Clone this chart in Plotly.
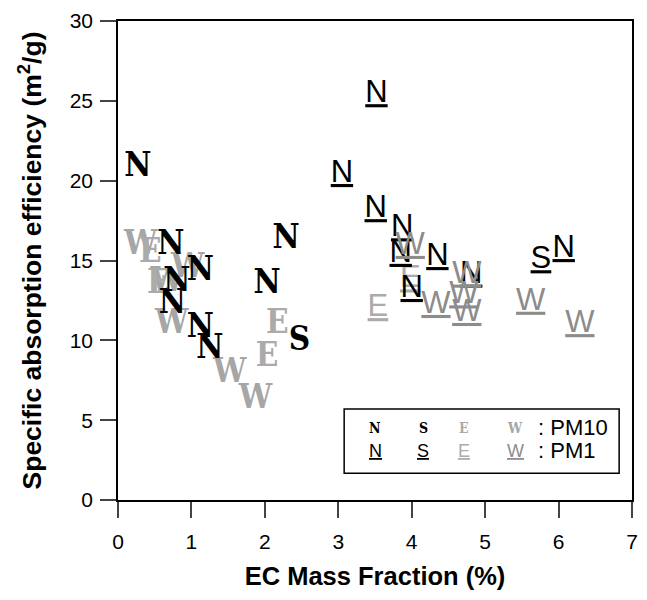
import plotly.graph_objects as go

# PM10 samples (bold serif letters), by site
pm10_n_x = [0.27, 0.72, 1.12, 0.80, 0.74, 1.12, 1.25, 2.29, 2.03]
pm10_n_y = [20.8, 15.9, 14.3, 13.6, 12.2, 10.7, 9.4, 16.3, 13.5]
pm10_s_x = [2.47]
pm10_s_y = [9.9]
pm10_e_x = [0.44, 0.55, 2.17, 2.03]
pm10_e_y = [15.4, 13.5, 11.0, 8.9]
pm10_w_x = [0.31, 0.95, 0.67, 0.73, 1.52, 1.87]
pm10_w_y = [15.9, 14.5, 13.6, 11.0, 7.9, 6.3]

# PM1 samples (underlined sans letters), by site
pm1_n_x = [3.52, 3.05, 3.51, 3.87, 3.85, 4.35, 4.00, 4.81, 6.07]
pm1_n_y = [25.4, 20.4, 18.2, 17.0, 15.4, 15.2, 13.2, 14.1, 15.7]
pm1_s_x = [5.76]
pm1_s_y = [15.0]
pm1_e_x = [3.98, 3.54]
pm1_e_y = [13.8, 12.0]
pm1_w_x = [3.98, 4.33, 4.75, 4.71, 4.75, 5.62, 6.29]
pm1_w_y = [15.9, 12.2, 14.1, 12.8, 11.7, 12.4, 11.0]

x_ticks = [0, 1, 2, 3, 4, 5, 6, 7]
y_ticks = [0, 5, 10, 15, 20, 25, 30]

BLACK = "#000000"
GRAY_E = "#ababab"
GRAY_W10 = "#a6a6a6"
GRAY_W1 = "#8c8c8c"

SERIF = "DejaVu Serif Condensed, DejaVu Serif"
SANS = "Liberation Sans, Arial, sans-serif"


def letter_trace(xs, ys, letter, color, pm10):
    if pm10:
        font = dict(family=SERIF, size=33, color=color, weight="bold")
    else:
        font = dict(family=SANS, size=31, color=color, lineposition="under")
    return go.Scatter(
        x=xs, y=ys, mode="text", text=[letter] * len(xs),
        textposition="middle center", textfont=font,
        showlegend=False, hoverinfo="x+y",
    )


fig = go.Figure()
# gray first, black on top
fig.add_trace(letter_trace(pm10_w_x, pm10_w_y, "W", GRAY_W10, True))
fig.add_trace(letter_trace(pm10_e_x, pm10_e_y, "E", GRAY_E, True))
fig.add_trace(letter_trace(pm1_e_x, pm1_e_y, "E", GRAY_E, False))
fig.add_trace(letter_trace(pm10_n_x, pm10_n_y, "N", BLACK, True))
fig.add_trace(letter_trace(pm10_s_x, pm10_s_y, "S", BLACK, True))
fig.add_trace(letter_trace(pm1_n_x, pm1_n_y, "N", BLACK, False))
fig.add_trace(letter_trace(pm1_s_x, pm1_s_y, "S", BLACK, False))
fig.add_trace(letter_trace(pm1_w_x, pm1_w_y, "W", GRAY_W1, False))

# legend box drawn by hand
legend_row10 = [("N", BLACK), ("S", BLACK), ("E", GRAY_E), ("W", GRAY_W10)]
legend_row1 = [("N", BLACK), ("S", BLACK), ("E", GRAY_E), ("W", GRAY_W1)]
col_x = [0.500, 0.594, 0.673, 0.773]
annotations = []
for (letter, color), cx in zip(legend_row10, col_x):
    annotations.append(dict(
        x=cx, y=0.151, xref="paper", yref="paper", text=letter, showarrow=False,
        xanchor="center", yanchor="middle",
        font=dict(family=SERIF, size=14, color=color, weight="bold"),
    ))
for (letter, color), cx in zip(legend_row1, col_x):
    annotations.append(dict(
        x=cx, y=0.103, xref="paper", yref="paper", text=letter, showarrow=False,
        xanchor="center", yanchor="middle",
        font=dict(family=SANS, size=18, color=color, lineposition="under"),
    ))
for label, ly in [(": PM10", 0.151), (": PM1", 0.103)]:
    annotations.append(dict(x=0.814, y=ly, xref="paper", yref="paper", text=label,
                            showarrow=False, xanchor="left", yanchor="middle",
                            font=dict(family=SANS, size=22, color=BLACK)))

# the page body adds an 8px margin, so the figure is sized to fill the window exactly
fig.update_layout(
    width=631, height=584,
    margin=dict(l=110, r=1, t=8, b=92),
    plot_bgcolor="white", paper_bgcolor="white",
    font=dict(family=SANS, color="black"),
    annotations=annotations,
    shapes=[dict(type="rect", xref="paper", yref="paper",
                 x0=0.440, x1=0.975, y0=0.056, y1=0.190,
                 line=dict(color="black", width=1.5), fillcolor="white", layer="below")],
)
fig.update_xaxes(
    range=[0, 7], tickvals=x_ticks, ticks="outside", ticklen=16, tickwidth=1.5,
    ticklabelstandoff=6, ticklabeloverflow="allow",
    showline=True, linecolor="black", linewidth=1.5, mirror=True,
    showgrid=False, zeroline=False, tickfont=dict(size=21),
    title=dict(text="<b>EC Mass Fraction (%)</b>", font=dict(size=25.5), standoff=15),
)
fig.update_yaxes(
    range=[0, 30], tickvals=y_ticks, ticks="outside", ticklen=16, tickwidth=1.5,
    ticklabelstandoff=3, ticklabeloverflow="allow",
    showline=True, linecolor="black", linewidth=1.5, mirror=True,
    showgrid=False, zeroline=False, tickfont=dict(size=21),
    title=dict(text="<b>Specific absorption efficiency (m<sup>2</sup>/g)</b>",
               font=dict(size=26.5), standoff=20),
)

fig.write_html("out.html")
